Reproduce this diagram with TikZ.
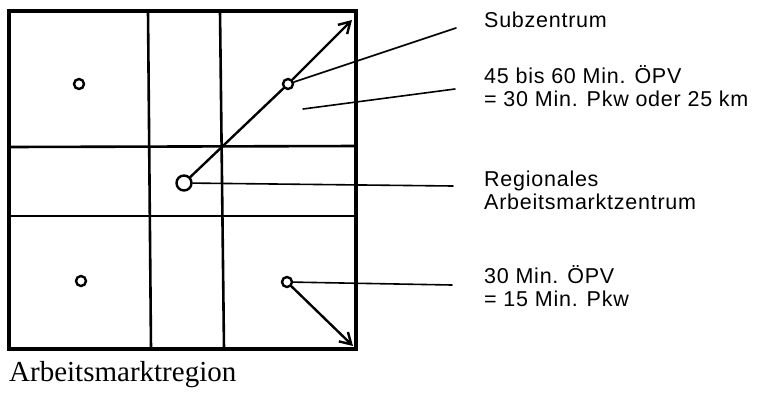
\documentclass[tikz,border=0pt]{standalone}
\usepackage{fontspec}
\newfontfamily\labelfont{Liberation Sans}[LetterSpace=3.5]
\newfontfamily\titlefont{Liberation Serif}
\usetikzlibrary{arrows.meta}

\begin{document}
\begin{tikzpicture}[x=1pt,y=-1pt,>={Straight Barb[length=11pt,width=13pt]},line cap=round,
  ort/.style={circle,draw,line width=2.4pt,fill=white,inner sep=0pt,minimum size=10pt},
  leit/.style={line width=1.6pt},
  txt/.style={anchor=base west,inner sep=0pt,align=left,font=\labelfont\fontsize{21.5}{23}\selectfont}]
\useasboundingbox (0,0) rectangle (758,392);
\draw[line width=3.4pt] (9,11) rectangle (356,349);
\draw[line width=2.6pt] (148,11) -- (151,349);
\draw[line width=2.6pt] (220,11) -- (224,349);
\draw[line width=2.6pt] (9,147) -- (356,146);
\draw[line width=2.6pt] (9,216) -- (356,216);
\node[ort] (sub1) at (79,84) {};
\node[ort] (sub2) at (81,281) {};
\node[ort] (sub3) at (288,84) {};
\node[ort] (sub4) at (287,282) {};
\node[ort,minimum size=15pt] (zentrum) at (184,183) {};
\coordinate (pfeil1) at (352,20);
\coordinate (pfeil2) at (353,346);
\draw[line width=2.4pt] (zentrum) -- (sub3);
\draw[->,line width=2.4pt] (sub3) -- (pfeil1);
\draw[->,line width=2.4pt] (sub4) -- (pfeil2);
\node[txt] (tsub) at (484,27) {Subzentrum};
\node[txt] (tweit) at (484,106) {45 bis 60 Min. ÖPV\\= 30 Min. Pkw oder 25 km};
\node[txt] (tzentrum) at (484,209) {Regionales\\Arbeitsmarktzentrum};
\node[txt] (tnah) at (484,306) {30 Min. ÖPV\\= 15 Min. Pkw};
\node[anchor=base west,inner sep=0pt,font=\titlefont\fontsize{29}{30}\selectfont] (region) at (9,381) {Arbeitsmarktregion};
\coordinate (lsub) at (456,28);
\coordinate (lfeld) at (303,109);
\coordinate (lweit) at (455,89);
\coordinate (lzentrum) at (453,186);
\coordinate (lnah) at (452,285);
\draw[leit] (sub3) -- (lsub);
\draw[leit] (lfeld) -- (lweit);
\draw[leit] (zentrum) -- (lzentrum);
\draw[leit] (sub4) -- (lnah);
\end{tikzpicture}
\end{document}
